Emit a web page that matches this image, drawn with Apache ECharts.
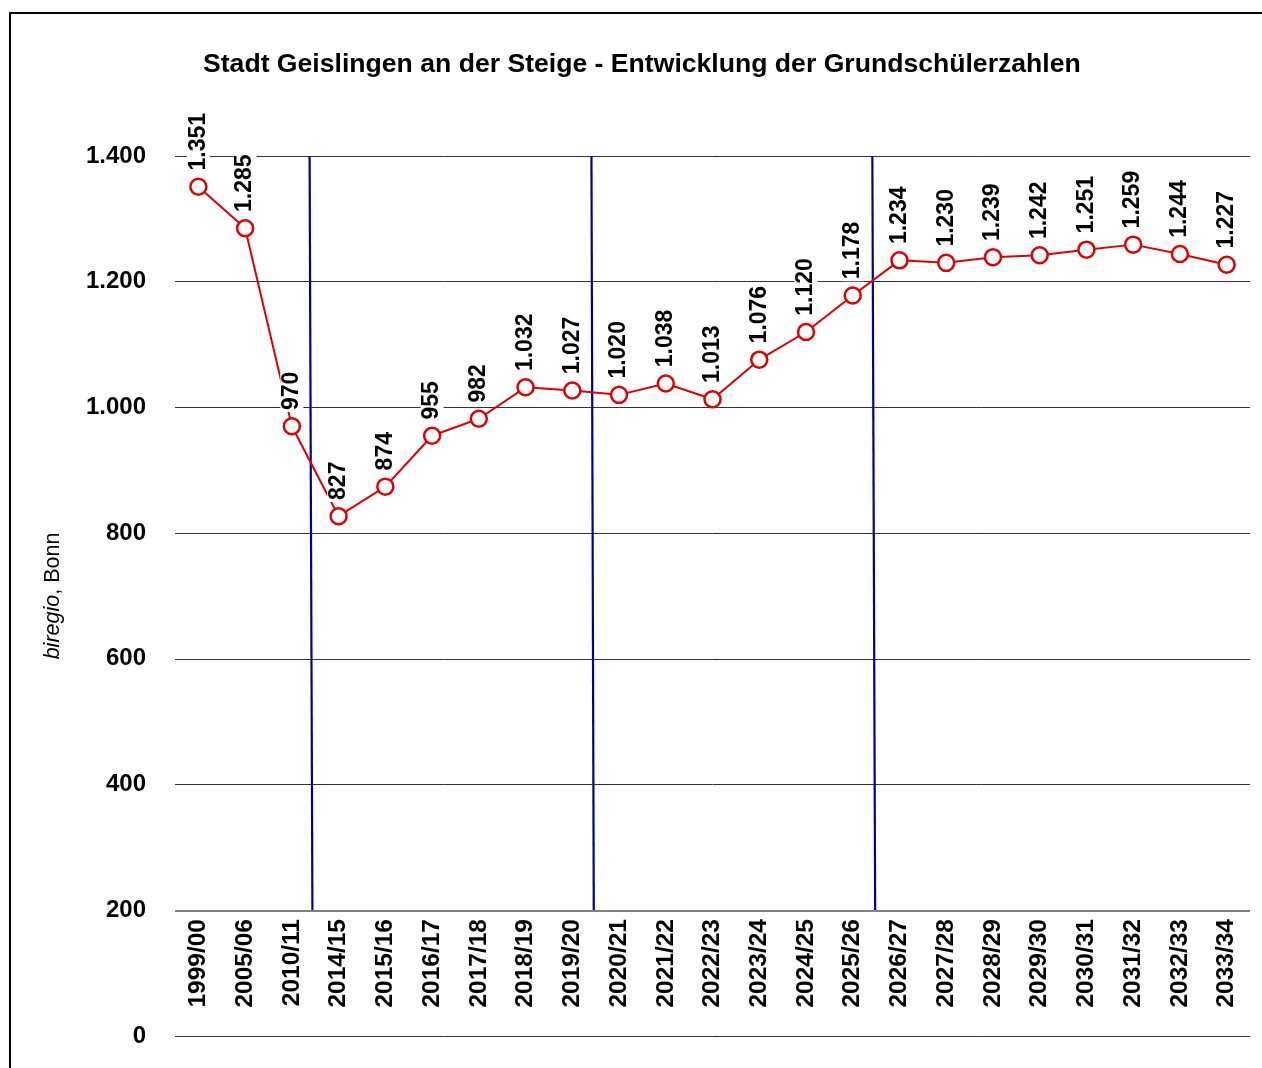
<!DOCTYPE html>
<html>
<head>
<meta charset="utf-8">
<script src="https://cdn.jsdelivr.net/npm/echarts@6/dist/echarts.min.js"></script>
<style>
  html, body { margin: 0; padding: 0; background: #fff; }
  #chart { width: 1262px; height: 1068px; }
</style>
</head>
<body>
<div id="chart"></div>
<script>
// School years (categories)
const schoolYears = [
  '1999/00', '2005/06', '2010/11', '2014/15', '2015/16', '2016/17', '2017/18',
  '2018/19', '2019/20', '2020/21', '2021/22', '2022/23', '2023/24', '2024/25',
  '2025/26', '2026/27', '2027/28', '2028/29', '2029/30', '2030/31', '2031/32',
  '2032/33', '2033/34'
];

// Number of primary school pupils per school year
const pupils = [
  1351, 1285, 970, 827, 874, 955, 982, 1032, 1027, 1020, 1038, 1013,
  1076, 1120, 1178, 1234, 1230, 1239, 1242, 1251, 1259, 1244, 1227
];

// Y-axis scale
const yMin = 0;
const yMax = 1400;
const yStep = 200;
const baseLineValue = 200;

// Period dividers (position in category units, at the top and bottom end)
const dividerTopX = [2.38, 8.41, 14.42];
const dividerBottomX = [2.44, 8.46, 14.48];
const dividerTopY = 1400;
const dividerBottomY = 200;

const FONT = "'Liberation Sans', Arial, Helvetica, sans-serif";

function fmtDE(v) {
  return String(Math.round(v)).replace(/\B(?=(\d{3})+(?!\d))/g, '.');
}

const chart = echarts.init(document.getElementById('chart'), null, { renderer: 'canvas' });

const dividerSeries = dividerTopX.map((x, i) => ({
  type: 'line',
  xAxisIndex: 1,
  yAxisIndex: 0,
  data: [[x, dividerTopY], [dividerBottomX[i], dividerBottomY]],
  symbol: 'none',
  silent: true,
  z: 3,
  lineStyle: { color: '#000099', width: 2.2 }
}));

const option = {
  backgroundColor: '#ffffff',
  animation: false,
  textStyle: { fontFamily: FONT },
  title: {
    text: 'Stadt Geislingen an der Steige - Entwicklung der Grundschülerzahlen',
    left: 198,
    top: 46,
    textStyle: { fontFamily: FONT, fontSize: 26.6, fontWeight: 'bold', color: '#000' }
  },
  graphic: [{
    type: 'rect',
    silent: true,
    z: 0,
    shape: { x: 10, y: 13, width: 1300, height: 1100 },
    style: { fill: 'none', stroke: '#000', lineWidth: 2 }
  }],
  grid: { left: 175, right: 12, top: 156, bottom: 32, containLabel: false },
  xAxis: [{
    type: 'category',
    data: schoolYears,
    boundaryGap: true,
    axisLine: { show: false },
    axisTick: { show: false },
    splitLine: { show: false },
    axisLabel: {
      rotate: 90,
      margin: -117,
      interval: 0,
      fontFamily: FONT,
      fontSize: 24.5,
      fontWeight: 'bold',
      color: '#000'
    }
  }, {
    type: 'value',
    min: -0.5,
    max: schoolYears.length - 0.5,
    show: false
  }],
  yAxis: {
    type: 'value',
    min: yMin,
    max: yMax,
    interval: yStep,
    axisLine: { show: false },
    axisTick: { show: false },
    splitLine: { show: true, lineStyle: { color: '#333', width: 1 } },
    axisLabel: {
      margin: 29,
      fontFamily: FONT,
      fontSize: 24,
      fontWeight: 'bold',
      color: '#000',
      formatter: fmtDE
    },
    name: '{i|biregio}, Bonn',
    nameLocation: 'middle',
    nameRotate: 90,
    nameGap: 111,
    nameTextStyle: {
      fontFamily: FONT,
      fontSize: 21.5,
      color: '#000',
      rich: {
        i: { fontFamily: FONT, fontSize: 21.5, fontStyle: 'italic', color: '#000' }
      }
    }
  },
  series: [{
    type: 'line',
    name: 'Grundschüler',
    data: pupils,
    z: 5,
    symbol: 'circle',
    symbolSize: 16,
    lineStyle: { color: '#e00000', width: 2 },
    itemStyle: { color: '#ffffff', borderColor: '#e00000', borderWidth: 2.5 },
    label: {
      show: true,
      position: 'top',
      distance: 5,
      rotate: 90,
      align: 'left',
      verticalAlign: 'middle',
      fontFamily: FONT,
      fontSize: 23,
      fontWeight: 'bold',
      color: '#000',
      backgroundColor: '#ffffff',
      padding: [0, 2, 0, 2],
      formatter: p => fmtDE(p.value)
    },
    markLine: {
      silent: true,
      symbol: 'none',
      label: { show: false },
      lineStyle: { color: '#808080', width: 2, type: 'solid' },
      data: [{ yAxis: baseLineValue }]
    }
  }, ...dividerSeries]
};

chart.setOption(option);
</script>
</body>
</html>
